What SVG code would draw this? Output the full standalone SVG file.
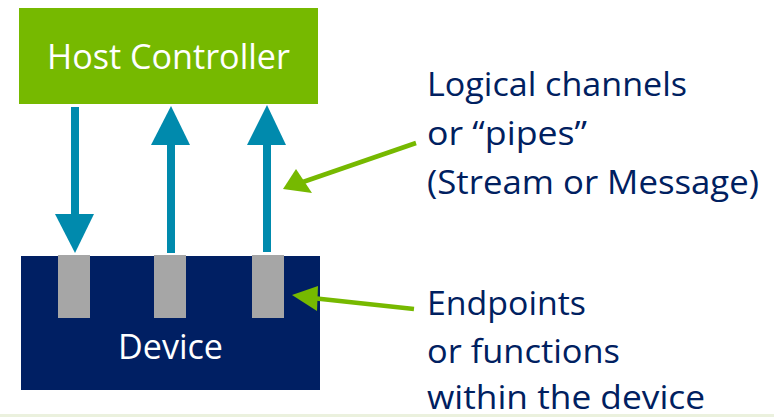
<svg xmlns="http://www.w3.org/2000/svg" width="774" height="417" viewBox="0 0 774 417">
<style>
.lbl{font-family:"Open Sans","Liberation Sans",sans-serif;font-size:32px;fill:#002060}
.wt{font-family:"Open Sans","Liberation Sans",sans-serif;font-size:34px;fill:#ffffff}
.pipe{fill:#008AAD}
.ep{fill:#A6A6A6}
.gl{stroke:#76B900;stroke-width:4.5;fill:none}
.gh{fill:#76B900}
</style>
<rect x="0" y="0" width="774" height="417" fill="#ffffff"/>
<rect x="0" y="414" width="774" height="3" fill="#EBF1DE"/>
<g id="host">
<rect x="19" y="8" width="299" height="96" fill="#76B900"/>
<text class="wt" x="47" y="69" textLength="243" lengthAdjust="spacingAndGlyphs">Host Controller</text>
</g>
<g id="device">
<rect x="21" y="256" width="299" height="134" fill="#001F63"/>
<rect class="ep" x="58" y="255" width="32" height="63"/>
<rect class="ep" x="154" y="255" width="32" height="63"/>
<rect class="ep" x="252" y="255" width="32" height="63"/>
<text class="wt" x="118" y="359" textLength="105" lengthAdjust="spacingAndGlyphs">Device</text>
</g>
<g id="connectors">
<rect class="pipe" x="71" y="107" width="8" height="108"/>
<polygon class="pipe" points="55,214 94,214 75,253"/>
<rect class="pipe" x="167" y="144" width="8" height="109"/>
<polygon class="pipe" points="151,145 190,145 171,106"/>
<rect class="pipe" x="263" y="144" width="8" height="108"/>
<polygon class="pipe" points="247,145 286,145 267,105"/>
<line class="gl" x1="416" y1="143" x2="300" y2="183"/>
<polygon class="gh" points="283,189 296,169 312,193"/>
<line class="gl" x1="414" y1="309" x2="312" y2="298"/>
<polygon class="gh" points="292,295 318,286 317,311"/>
</g>
<g id="labels">
<text class="lbl" x="427" y="96" textLength="260" lengthAdjust="spacingAndGlyphs">Logical channels</text>
<text class="lbl" x="427" y="145" textLength="160" lengthAdjust="spacingAndGlyphs">or “pipes”</text>
<text class="lbl" x="427" y="194" textLength="332" lengthAdjust="spacingAndGlyphs">(Stream or Message)</text>
<text class="lbl" x="427" y="315" textLength="159" lengthAdjust="spacingAndGlyphs">Endpoints</text>
<text class="lbl" x="427" y="363" textLength="193" lengthAdjust="spacingAndGlyphs">or functions</text>
<text class="lbl" x="427" y="409" textLength="278" lengthAdjust="spacingAndGlyphs">within the device</text>
</g>
</svg>
